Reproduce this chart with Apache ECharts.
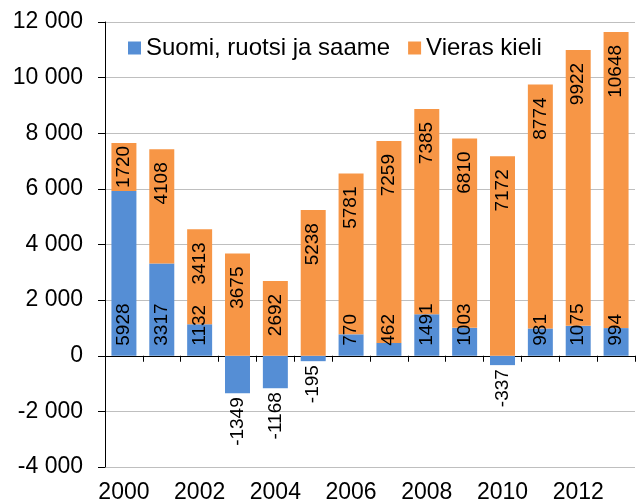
<!DOCTYPE html>
<html>
<head>
<meta charset="utf-8">
<script src="https://cdn.jsdelivr.net/npm/echarts@6/dist/echarts.min.js"></script>
<style>html,body{margin:0;padding:0;background:#fff}#c{width:640px;height:504px}</style>
</head>
<body>
<div id="c"></div>
<script>
const years = ['2000','2001','2002','2003','2004','2005','2006','2007','2008','2009','2010','2011','2012','2013'];
const domestic = [5928, 3317, 1132, -1349, -1168, -195, 770, 462, 1491, 1003, -337, 981, 1075, 994];
const foreign = [1720, 4108, 3413, 3675, 2692, 5238, 5781, 7259, 7385, 6810, 7172, 8774, 9922, 10648];
const seriesNames = ['Suomi, ruotsi ja saame', 'Vieras kieli'];
const yTicks = [-4000, -2000, 0, 2000, 4000, 6000, 8000, 10000, 12000];

const FONT = 'Liberation Sans, Arial, sans-serif';
const fmt = v => { const s = Math.abs(v).toString().replace(/\B(?=(\d{3})+(?!\d))/g, ' '); return (v < 0 ? '-' : '') + s; };

const labelBase = { show: true, rotate: 90, fontSize: 19, fontFamily: FONT, color: '#000' };

const domData = domestic.map(v => v >= 0
  ? { value: v, label: { position: 'insideBottom', align: 'left', verticalAlign: 'middle', distance: 10 } }
  : { value: v, label: { position: 'bottom', align: 'right', verticalAlign: 'middle', distance: 4 } });
const forData = foreign.map(v => v < 2000
  ? { value: v, label: { position: 'inside', align: 'center', verticalAlign: 'middle' } }
  : { value: v, label: { position: 'insideTop', align: 'right', verticalAlign: 'middle', distance: 13 } });

const chart = echarts.init(document.getElementById('c'), null, { renderer: 'canvas' });
chart.setOption({
  animation: false,
  textStyle: { fontFamily: FONT },
  grid: { left: 105, right: 5, top: 22, bottom: 36, containLabel: false },
  legend: {
    left: 123, top: 31, itemWidth: 13, itemHeight: 13, itemGap: 18,
    icon: 'rect',
    textStyle: { fontSize: 24, fontFamily: FONT, color: '#000' },
    data: seriesNames
  },
  xAxis: [{
    type: 'category', data: years, boundaryGap: true,
    axisLine: { onZero: true, lineStyle: { color: '#000', width: 1 } },
    axisTick: { show: true, length: 6, lineStyle: { color: '#000' }, interval: 0 },
    axisLabel: { show: false },
    splitLine: { show: false }
  }, {
    type: 'category', data: years, boundaryGap: true, position: 'bottom',
    axisLine: { show: false, onZero: false },
    axisTick: { show: false },
    axisLabel: { show: true, interval: 1, fontSize: 23, fontFamily: FONT, color: '#000', margin: 14 },
    splitLine: { show: false }
  }],
  yAxis: {
    type: 'value', min: yTicks[0], max: yTicks[yTicks.length - 1], interval: 2000,
    axisLine: { show: true, lineStyle: { color: '#000' } },
    axisTick: { show: true, length: 7, lineStyle: { color: '#000' } },
    axisLabel: { fontSize: 23, fontFamily: FONT, color: '#000', margin: 22, formatter: fmt },
    splitLine: { show: true, lineStyle: { color: '#bfbfbf', width: 1 } }
  },
  series: [{
    name: seriesNames[0], type: 'bar', stack: 'total', xAxisIndex: 0,
    barCategoryGap: '34%',
    itemStyle: { color: '#558ed5' },
    label: Object.assign({}, labelBase),
    data: domData
  }, {
    name: seriesNames[1], type: 'bar', stack: 'total', xAxisIndex: 0,
    barCategoryGap: '34%',
    itemStyle: { color: '#f79646' },
    label: Object.assign({}, labelBase),
    data: forData
  }]
});
</script>
</body>
</html>
